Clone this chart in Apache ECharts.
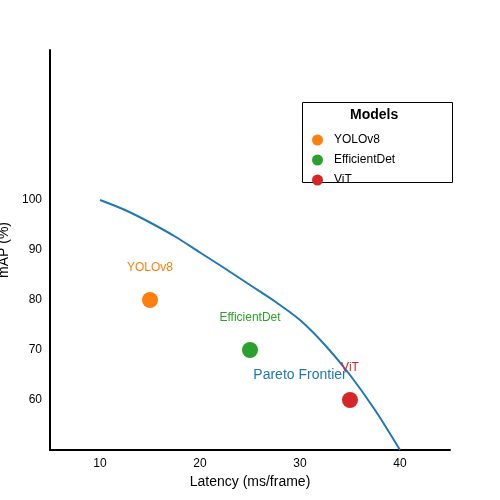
<!doctype html>
<html>
<head>
	<meta charset="UTF-8">
	<script src="https://cdn.jsdelivr.net/npm/echarts@6/dist/echarts.min.js"></script>
	<style>body{margin:0}#chart{width:500px;height:500px}</style>
</head>
<body>
	<div id="chart"></div>
	<script>
		// models
		var models = ['YOLOv8', 'EfficientDet', 'ViT'];
		var latency = [15, 25, 35];
		var mapScore = [80, 70, 60];
		var colors = ['#ff7f0e', '#2ca02c', '#d62728'];
		// pareto curve
		var frontX = [10, 12.5, 15, 17.5, 20, 22.5, 25, 27.5, 30, 32.5, 35, 37.5, 40];
		var frontY = [100, 98, 95.5, 92.7, 89.5, 86.3, 83, 79.7, 76, 71, 65, 58, 50];

		var chart = echarts.init(document.getElementById('chart'));

		var series = models.map(function (m, i) {
			return {
				name: m,
				type: 'scatter',
				symbolSize: 16,
				itemStyle: { color: colors[i], opacity: 1 },
				label: { show: true, position: 'top', distance: 18, formatter: m, color: colors[i], fontSize: 12 },
				data: [[latency[i], mapScore[i]]]
			};
		});
		series.push({
			type: 'line',
			smooth: 0.3,
			symbol: 'none',
			lineStyle: { color: '#1f77b4', width: 2 },
			data: frontX.map(function (x, i) { return [x, frontY[i]]; }),
			markPoint: {
				symbolSize: 0,
				label: { show: true, formatter: 'Pareto Frontier', color: '#1f77b4', fontSize: 14 },
				data: [{ coord: [30, 65] }]
			},
			z: 1
		});

		chart.setOption({
			grid: { left: 50, right: 50, top: 50, bottom: 50, containLabel: false, outerBoundsMode: 'none' },
			xAxis: {
				type: 'value', min: 5, max: 45, interval: 5,
				name: 'Latency (ms/frame)', nameLocation: 'middle', nameGap: 14,
				nameTextStyle: { color: '#000', fontSize: 14 },
				axisLine: { lineStyle: { color: '#000', width: 2 } },
				axisTick: { show: false },
				splitLine: { show: false },
				axisLabel: { color: '#000', formatter: function (v) { return v % 10 === 0 ? v : ''; } }
			},
			yAxis: {
				type: 'value', min: 50, max: 130, interval: 10,
				name: 'mAP (%)', nameLocation: 'middle', nameGap: 30,
				nameTextStyle: { color: '#000', fontSize: 14 },
				axisLine: { show: true, lineStyle: { color: '#000', width: 2 } },
				axisTick: { show: false },
				splitLine: { show: false },
				axisLabel: { color: '#000', formatter: function (v) { return (v >= 60 && v <= 100) ? v : ''; } }
			},
			legend: {
				data: models,
				orient: 'vertical',
				left: 312, top: 134, width: 130,
				padding: 0,
				itemGap: 8,
				icon: 'circle', itemWidth: 11, itemHeight: 11,
				textStyle: { color: '#000', fontSize: 12, padding: [0, 0, 0, 6] }
			},
			graphic: [
				{ type: 'rect', left: 300, top: 100, shape: { width: 150, height: 80 }, style: { fill: 'none', stroke: '#000', lineWidth: 1 }, z: -1 },
				{ type: 'text', left: 350, top: 108, style: { text: 'Models', font: 'bold 14px sans-serif', fill: '#000' } }
			],
			series: series
		});
	</script>
</body>
</html>
